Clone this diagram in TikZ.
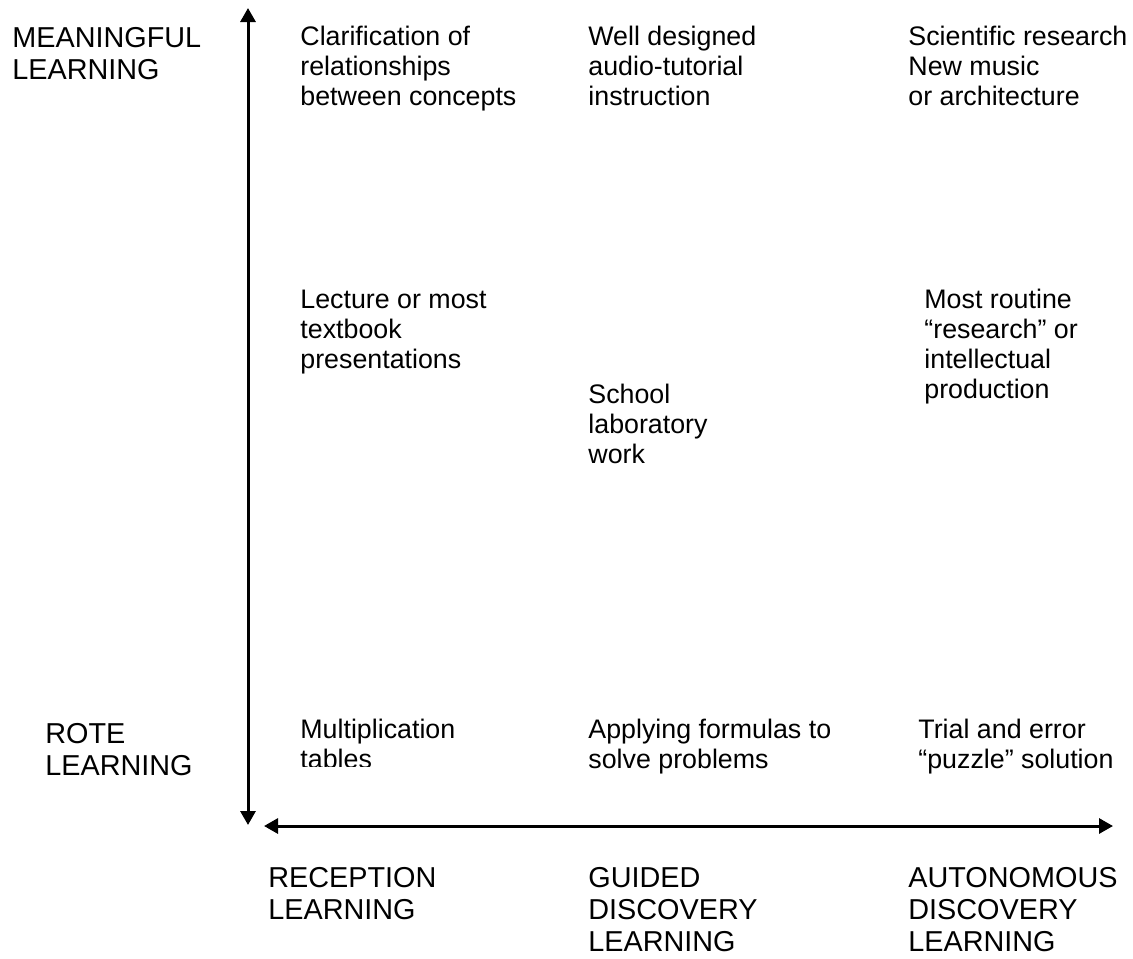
\documentclass[tikz,border=0pt]{standalone}
\usepackage{fontspec}
\setmainfont{Liberation Sans}
\usetikzlibrary{arrows.meta}

\tikzset{
	lbl/.style={anchor=base west, align=left, inner sep=0pt, font=\fontsize{13.4}{15}\selectfont},
	caps/.style={anchor=base west, align=left, inner sep=0pt, font=\fontsize{14.4}{16}\selectfont},
	axis/.style={line width=1.5pt, {Triangle[length=7pt,width=7.5pt]}-{Triangle[length=7pt,width=7.5pt]}}
}

\begin{document}
		\begin{tikzpicture}[x=0.5pt,y=-0.5pt]
			\useasboundingbox (0,0) rectangle (1133,958);
			
			% Axes
			\coordinate (V1) at (248,825);
			\coordinate (V2) at (248,8);
			\draw[axis] (V1) -- (V2);
			
			\coordinate (H1) at (264,826);
			\coordinate (H2) at (1113,826);
			\draw[axis] (H1) -- (H2);
			
			% Axis labels (placed at the baseline of the last line)
			\node[caps] (meaningful) at (12,79) {MEANINGFUL\\LEARNING};
			\node[caps] (rote) at (45,775) {ROTE\\LEARNING};
			
			\node[caps] (reception) at (268,919) {RECEPTION\\LEARNING};
			\node[caps] (guided) at (588,951) {GUIDED\\DISCOVERY\\LEARNING};
			\node[caps] (autonomous) at (908,951) {AUTONOMOUS\\DISCOVERY\\LEARNING};
			
			% Examples, top row
			\node[lbl] (clarify) at (300,105) {Clarification of\\relationships\\between concepts};
			\node[lbl] (tutorial) at (588,105) {Well designed\\audio-tutorial\\instruction};
			\node[lbl] (science) at (908,105) {Scientific research\\New music\\or architecture};
			
			% Examples, middle
			\node[lbl] (lecture) at (300,368) {Lecture or most\\textbook\\presentations};
			\node[lbl] (school) at (588,463) {School\\laboratory\\work};
			\node[lbl] (routine) at (924,398) {Most routine\\“research” or\\intellectual\\production};
			
			% Examples, bottom row
			\begin{scope}
				\clip (290,700) rectangle (560,766);
				\node[lbl] (tables) at (300,768) {Multiplication\\tables};
			\end{scope}
			\node[lbl] (formulas) at (588,768) {Applying formulas to\\solve problems};
			\node[lbl] (puzzle) at (918,768) {Trial and error\\“puzzle” solution};
		\end{tikzpicture}
\end{document}
